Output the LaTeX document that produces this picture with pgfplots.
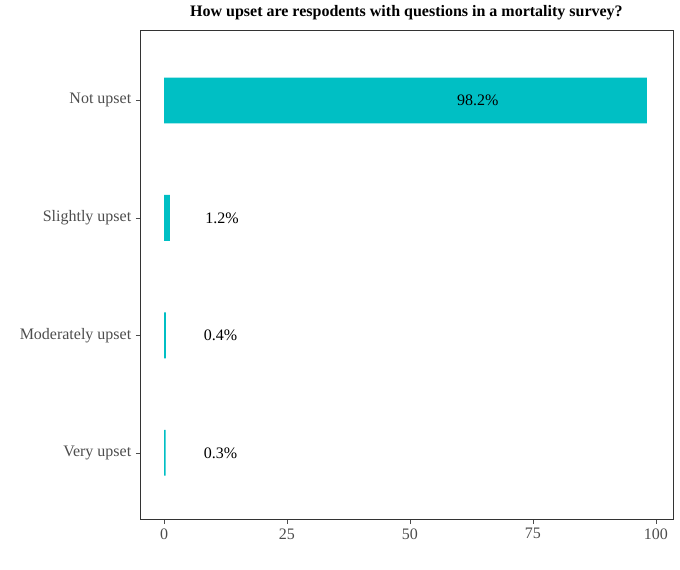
\documentclass[border=0pt]{standalone}
\usepackage{pgfplots}
\pgfplotsset{compat=1.18}
\usepackage{fontspec}
\setmainfont{Liberation Serif}
\definecolor{bar}{HTML}{00BFC4}
\definecolor{tk}{HTML}{4D4D4D}
\begin{document}
\begin{tikzpicture}
\useasboundingbox (-105pt,-37.5pt) rectangle (405.25pt,390pt);
\begin{axis}[at={(0,0)},anchor=south west,
  width=400pt,height=367.5pt,scale only axis,
  xbar, bar width=0.39, bar shift=0pt,
  xmin=-4.9,xmax=103.5,ymin=-0.57,ymax=3.6,
  ytick={0,1,2,3},yticklabels={Very upset,Moderately upset,Slightly upset,Not upset},
  xtick={0,25,50,75,100},
  /pgf/number format/assume math mode=true,
  tick label style={font=\fontsize{12}{14}\selectfont,text=tk},
  tick style={tk}, tick align=outside, major tick length=3pt,
  xtick pos=bottom, ytick pos=left,
  axis line style={black!80},
  title={\textbf{How upset are respodents with questions in a mortality survey?}},
  title style={font=\fontsize{12}{14}\selectfont, yshift=-2pt},
  every axis title/.append style={at={(0.5,1)},anchor=south},
]
\addplot[fill=bar,draw=none] coordinates {(0.3,0) (0.4,1) (1.2,2) (98.2,3)};
\node[font=\fontsize{12}{14}\selectfont] at (axis cs:63.8,3) {98.2\%};
\node[font=\fontsize{12}{14}\selectfont] at (axis cs:11.8,2) {1.2\%};
\node[font=\fontsize{12}{14}\selectfont] at (axis cs:11.5,1) {0.4\%};
\node[font=\fontsize{12}{14}\selectfont] at (axis cs:11.5,0) {0.3\%};
\end{axis}
\end{tikzpicture}
\end{document}
